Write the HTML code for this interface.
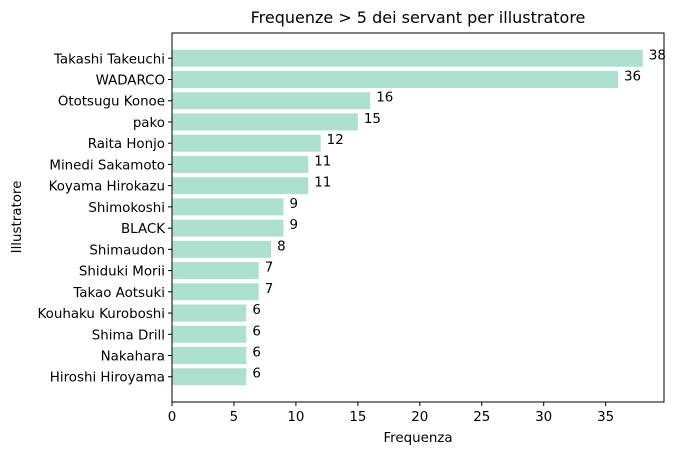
<!DOCTYPE html>
<html><head><meta charset="utf-8"><style>
body{margin:0;background:#fff;font-family:"Liberation Sans","DejaVu Sans",sans-serif}
svg text{font-family:"DejaVu Sans","Liberation Sans",sans-serif;font-size:13.4px;fill:#000}
</style></head><body>
<svg id="chart" width="677" height="455" xmlns="http://www.w3.org/2000/svg">
<text x="418" y="23" text-anchor="middle" style="font-size:16px">Frequenze &gt; 5 dei servant per illustratore</text>
<text x="418" y="442" text-anchor="middle">Frequenza</text>
<text x="21" y="217" text-anchor="middle" transform="rotate(-90 21 217)">Illustratore</text>
<g id="marks"></g>
<rect x="172" y="33" width="492" height="369" fill="none" stroke="#000" stroke-width="1"/>
</svg>
<script>
const categories=["Takashi Takeuchi","WADARCO","Ototsugu Konoe","pako","Raita Honjo","Minedi Sakamoto","Koyama Hirokazu","Shimokoshi","BLACK","Shimaudon","Shiduki Morii","Takao Aotsuki","Kouhaku Kuroboshi","Shima Drill","Nakahara","Hiroshi Hiroyama"];
const values=[38,36,16,15,12,11,11,9,9,8,7,7,6,6,6,6];
const xTicks=[0,5,10,15,20,25,30,35];
const L=172,R=664,T=33,B=402;
const xmax=Math.max(...values)*1.045;
const xs=v=>L+v/xmax*(R-L);
const n=categories.length;
const lo=-0.4-0.05*(n-1+0.8), hi=n-1+0.4+0.05*(n-1+0.8);
const ys=i=>T+(i-lo)/(hi-lo)*(B-T);
const unit=(B-T)/(hi-lo);
const g=document.getElementById('marks');
const NS="http://www.w3.org/2000/svg";
function mk(t,a){const e=document.createElementNS(NS,t);for(const k in a)e.setAttribute(k,a[k]);g.appendChild(e);return e;}
values.forEach((v,i)=>{
 const cy=ys(i);
 const r=mk('rect',{x:xs(0),y:cy-0.4*unit,width:xs(v)-xs(0),height:0.8*unit,fill:'#aee0d0'});
 
 
 const t=mk('text',{x:xs(v)+6,y:cy+1});t.textContent=v;
 
 
 const tk=mk('line',{x1:L-4,x2:L,y1:cy,y2:cy,stroke:'#000'});
 
 
 const lb=mk('text',{x:L-7,y:cy+5,'text-anchor':'end'});lb.textContent=categories[i];
 
 
});
xTicks.forEach(v=>{
 const x=xs(v);
 const tk=mk('line',{x1:x,x2:x,y1:B,y2:B+4,stroke:'#000'});
 
 
 const lb=mk('text',{x:x,y:B+19,'text-anchor':'middle'});lb.textContent=v;
 
 
});
</script>
</body></html>
